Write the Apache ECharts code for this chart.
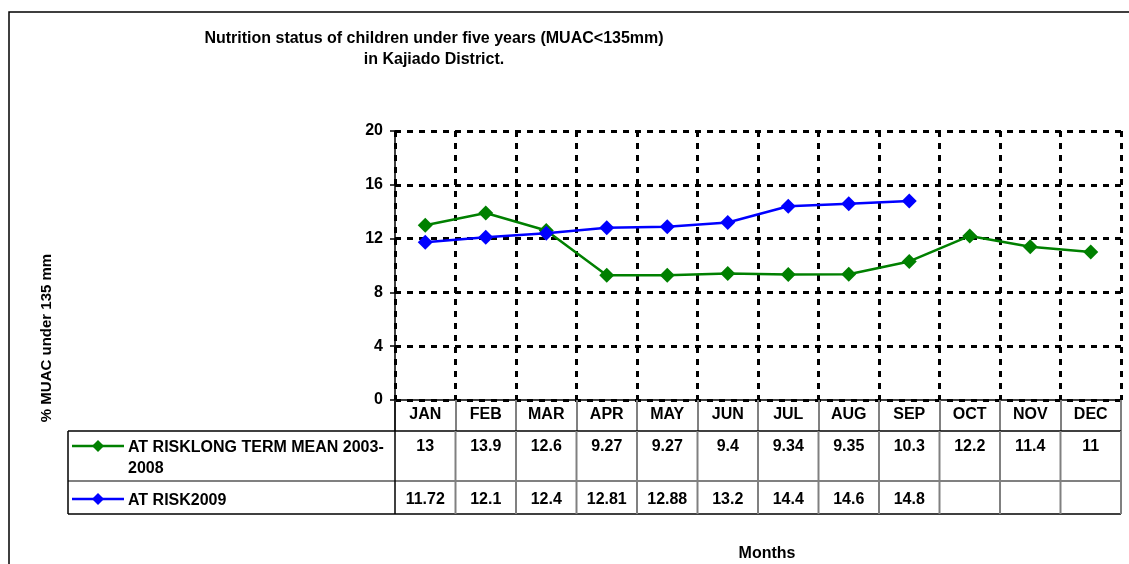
<!DOCTYPE html>
<html><head><meta charset="utf-8">
<script src="https://cdn.jsdelivr.net/npm/echarts@6/dist/echarts.min.js"></script>
<style>html,body{margin:0;padding:0;background:#fff}#c{width:1129px;height:564px}</style>
</head><body><div id="c"></div>
<script>
const months = ['JAN','FEB','MAR','APR','MAY','JUN','JUL','AUG','SEP','OCT','NOV','DEC'];
const longTermMean = [13, 13.9, 12.6, 9.27, 9.27, 9.4, 9.34, 9.35, 10.3, 12.2, 11.4, 11];
const atRisk2009 = [11.72, 12.1, 12.4, 12.81, 12.88, 13.2, 14.4, 14.6, 14.8, null, null, null];
const yTicks = [0, 4, 8, 12, 16, 20];
const seriesNames = ['AT RISKLONG TERM MEAN 2003-\n2008', 'AT RISK2009'];
const seriesColors = ['#008000', '#0000FF'];
const titleText = 'Nutrition status of children under five years (MUAC<135mm)\nin Kajiado District.';
const yName = '% MUAC under 135 mm';
const xName = 'Months';

const FONT = 'Liberation Sans, Arial, sans-serif';
const FS = 16;
const chart = echarts.init(document.getElementById('c'), null, {renderer: 'canvas'});
const option = {
  animation: false,
  backgroundColor: '#fff',
  grid: {left: 395, top: 131, right: 8, bottom: 164},
  xAxis: {
    type: 'category', data: months, boundaryGap: true,
    axisLine: {show: true, lineStyle: {color: '#000', width: 1.5}},
    axisTick: {show: true, length: 31, lineStyle: {color: '#808080', width: 2}},
    axisLabel: {fontFamily: FONT, fontSize: FS, fontWeight: 'bold', color: '#000', margin: 7},
    splitLine: {show: true, lineStyle: {color: '#000', width: 3, type: [6, 6]}}
  },
  yAxis: {
    type: 'value', min: yTicks[0], max: yTicks[yTicks.length - 1], interval: 4,
    axisLine: {show: true, lineStyle: {color: '#000', width: 1.5}},
    axisTick: {show: true, length: 5, lineStyle: {color: '#000', width: 1.5}},
    axisLabel: {fontFamily: FONT, fontSize: FS, fontWeight: 'bold', color: '#000', margin: 12},
    splitLine: {show: true, lineStyle: {color: '#000', width: 3, type: [6, 6]}}
  },
  series: [
    {name: 'lt', type: 'line', data: longTermMean, color: seriesColors[0], symbol: 'diamond', symbolSize: [15, 15],
     lineStyle: {width: 2.5, color: seriesColors[0]}, itemStyle: {color: seriesColors[0]}, z: 3},
    {name: 'r09', type: 'line', data: atRisk2009, color: seriesColors[1], symbol: 'diamond', symbolSize: [15, 15],
     lineStyle: {width: 2.5, color: seriesColors[1]}, itemStyle: {color: seriesColors[1]}, z: 4}
  ]
};
chart.setOption(option);

// Build the data table under the axis from the library's scales
const cx = months.map((m, i) => chart.convertToPixel({xAxisIndex: 0}, i));
const half = (cx[1] - cx[0]) / 2;
const bounds = months.map((m, i) => cx[i] - half).concat([cx[cx.length - 1] + half]);
const y0 = chart.convertToPixel({yAxisIndex: 0}, 0);
const headB = y0 + 31, r1B = y0 + 81, r2B = y0 + 114;
const tableLeft = 68;
const g = [];
const line = (x1, y1, x2, y2, color, w) => g.push({type: 'line', shape: {x1, y1, x2, y2}, style: {stroke: color, lineWidth: w}, silent: true, z: 10});
const txt = (x, y, s, align, fs) => g.push({type: 'text', x, y, style: {text: s, fill: '#000', font: 'bold ' + (fs || FS) + 'px ' + FONT, textAlign: align, textVerticalAlign: 'top', lineHeight: 21}, silent: true, z: 10});
// outer frame
g.push({type: 'rect', shape: {x: 9, y: 12, width: 1300, height: 700}, style: {fill: 'none', stroke: '#000', lineWidth: 1.5}, silent: true, z: 0});
// title
txt(434, 28, titleText, 'center');
// horizontal table lines
line(tableLeft, headB, bounds[12], headB, '#000', 1.5);
line(tableLeft, r1B, bounds[12], r1B, '#808080', 2);
line(tableLeft, r2B, bounds[12], r2B, '#000', 1.5);
// vertical table lines
line(tableLeft, headB, tableLeft, r2B, '#000', 1.5);
line(bounds[0], y0, bounds[0], r2B, '#000', 1.5);
for (let i = 1; i <= 12; i++) line(bounds[i], headB, bounds[i], r2B, '#808080', 2);
// values
const fmt = v => (v === null || v === undefined) ? '' : String(v);
[longTermMean, atRisk2009].forEach((arr, r) => {
  const ty = r === 0 ? headB + 5 : r1B + 8;
  arr.forEach((v, i) => { if (v !== null) txt(cx[i], ty, fmt(v), 'center'); });
});
// legend keys
[0, 1].forEach(r => {
  const ky = r === 0 ? headB + 15 : r1B + 18;
  line(72, ky, 124, ky, seriesColors[r], 2.5);
  g.push({type: 'polygon', shape: {points: [[98, ky - 6], [104, ky], [98, ky + 6], [92, ky]]}, style: {fill: seriesColors[r]}, silent: true, z: 11});
  txt(128, ky - 9, seriesNames[r], 'left');
});
// axis names
g.push({type: 'text', x: 47, y: 338, rotation: Math.PI / 2, style: {text: yName, fill: '#000', font: 'bold 15px ' + FONT, textAlign: 'center', textVerticalAlign: 'middle'}, silent: true});
g.push({type: 'text', x: 767, y: 554, style: {text: xName, fill: '#000', font: 'bold ' + FS + 'px ' + FONT, textAlign: 'center', textVerticalAlign: 'middle'}, silent: true});
chart.setOption({graphic: g});
</script></body></html>
